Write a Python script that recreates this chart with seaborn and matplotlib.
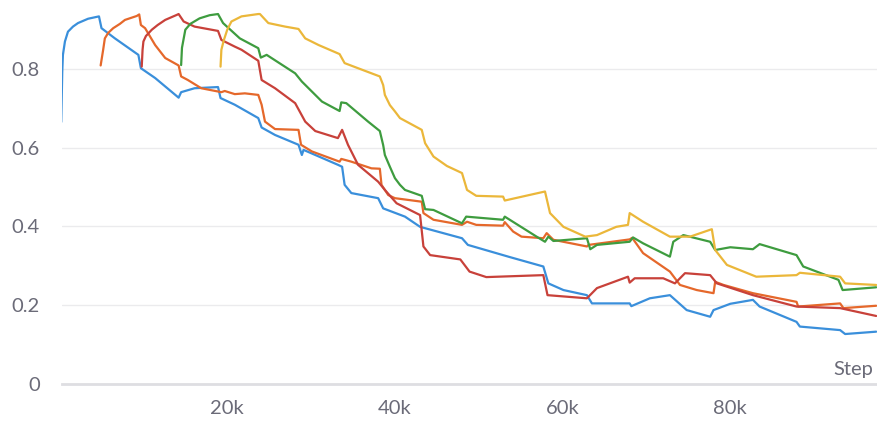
import numpy as np
import pandas as pd
import seaborn as sns
import matplotlib
matplotlib.use("Agg")
import matplotlib.pyplot as plt
from matplotlib.ticker import FuncFormatter

# Run curves: training step vs. metric value
run1_step = [200, 320, 400, 640, 1000, 1600, 2200, 3400, 4700, 5000, 6600, 9400, 9700, 11400,
             14200, 14500, 16100, 18900, 19200, 20900, 23700, 24100, 25700, 28500, 28900,
             29100, 33200, 33700, 34000, 34800, 38000, 38600, 41200, 43000, 48000, 48700,
             53700, 57700, 58300, 60100, 62900, 63500, 68000, 68200, 70400, 72800, 74800,
             77600, 78000, 80000, 82700, 83500, 87900, 88300, 93100, 93700, 97400]
run1_val = [0.666, 0.794, 0.837, 0.871, 0.896, 0.909, 0.918, 0.929, 0.935, 0.905, 0.879,
            0.837, 0.803, 0.778, 0.728, 0.742, 0.752, 0.755, 0.727, 0.710, 0.676, 0.652,
            0.633, 0.608, 0.582, 0.595, 0.557, 0.552, 0.506, 0.485, 0.472, 0.446, 0.425,
            0.399, 0.370, 0.353, 0.322, 0.298, 0.255, 0.238, 0.225, 0.204, 0.204, 0.197,
            0.217, 0.225, 0.187, 0.170, 0.187, 0.203, 0.213, 0.196, 0.157, 0.145, 0.136,
            0.126, 0.132]

run2_step = [4900, 5200, 5400, 5800, 6400, 7200, 7800, 9200, 9500, 9700, 10200, 11400, 12600,
             14200, 14500, 15300, 16900, 19300, 19700, 20900, 22100, 23700, 24100, 24500,
             25700, 28500, 28800, 30100, 33400, 33600, 34800, 37200, 38200, 38400, 39200,
             40000, 43200, 43400, 44600, 48000, 48600, 49700, 52900, 53100, 54100, 55100,
             57700, 58100, 58900, 62900, 63100, 68000, 68300, 69600, 72800, 74000, 76000,
             78000, 78200, 79200, 82700, 87900, 88100, 93100, 93500, 97400]
run2_val = [0.810, 0.850, 0.879, 0.893, 0.905, 0.916, 0.926, 0.936, 0.940, 0.913, 0.905,
            0.862, 0.829, 0.810, 0.782, 0.773, 0.752, 0.742, 0.745, 0.737, 0.739, 0.735,
            0.710, 0.667, 0.648, 0.646, 0.608, 0.591, 0.565, 0.572, 0.565, 0.548, 0.547,
            0.506, 0.480, 0.472, 0.463, 0.434, 0.417, 0.404, 0.412, 0.404, 0.402, 0.411,
            0.387, 0.374, 0.370, 0.383, 0.366, 0.349, 0.353, 0.367, 0.371, 0.332, 0.285,
            0.251, 0.238, 0.230, 0.259, 0.251, 0.230, 0.208, 0.196, 0.204, 0.192, 0.198]

run3_step = [9800, 9900, 10000, 10300, 11000, 11700, 12600, 14000, 14200, 14800, 16100,
             18900, 19300, 20900, 21700, 23700, 24100, 25700, 28100, 29300, 30500, 33200,
             33700, 34400, 35600, 38000, 38800, 40200, 43000, 43400, 44200, 47800, 48900,
             50900, 57700, 58200, 62900, 64100, 67800, 68000, 68600, 72000, 73400, 74600,
             77600, 78400, 82700, 87900, 93100, 97400]
run3_val = [0.807, 0.850, 0.871, 0.885, 0.901, 0.913, 0.926, 0.939, 0.941, 0.922, 0.909,
            0.898, 0.875, 0.858, 0.850, 0.822, 0.773, 0.752, 0.714, 0.667, 0.643, 0.625,
            0.646, 0.608, 0.557, 0.514, 0.493, 0.459, 0.429, 0.349, 0.327, 0.316, 0.285,
            0.271, 0.276, 0.225, 0.217, 0.243, 0.272, 0.257, 0.268, 0.268, 0.255, 0.281,
            0.276, 0.255, 0.225, 0.196, 0.192, 0.172]

run4_step = [14500, 14600, 15000, 15600, 16700, 17900, 18900, 19500, 21500, 23700, 24000,
             24700, 28100, 28900, 31300, 33400, 33600, 34200, 36800, 38200, 38600, 38800,
             39400, 40000, 40600, 41200, 43200, 43600, 44600, 48000, 48500, 52900, 53100,
             56900, 57900, 58300, 58900, 62900, 63300, 64100, 68000, 68400, 69600, 72800,
             73200, 74400, 77600, 78200, 80000, 82700, 83500, 87900, 88700, 92900, 93400,
             97400]
run4_val = [0.811, 0.855, 0.901, 0.916, 0.930, 0.938, 0.941, 0.918, 0.879, 0.854, 0.830,
            0.837, 0.790, 0.769, 0.718, 0.694, 0.716, 0.714, 0.667, 0.643, 0.607, 0.582,
            0.552, 0.523, 0.506, 0.493, 0.478, 0.444, 0.442, 0.408, 0.425, 0.417, 0.425,
            0.374, 0.361, 0.374, 0.363, 0.370, 0.342, 0.353, 0.361, 0.372, 0.357, 0.323,
            0.361, 0.378, 0.361, 0.340, 0.347, 0.342, 0.355, 0.327, 0.298, 0.264, 0.238,
            0.245]

run5_step = [19200, 19300, 19600, 20000, 20500, 21700, 23700, 23900, 24900, 26900, 28500,
             29300, 30900, 33400, 34000, 35600, 38200, 38600, 38800, 39400, 40000, 40600,
             43200, 43600, 44600, 46200, 48000, 48600, 49700, 52900, 53100, 57900, 58500,
             60100, 62700, 64100, 66400, 67800, 68000, 69600, 72800, 75200, 77800, 78200,
             79600, 83100, 87900, 88300, 93100, 93700, 97400]
run5_val = [0.807, 0.850, 0.875, 0.901, 0.922, 0.935, 0.941, 0.941, 0.918, 0.909, 0.903,
            0.879, 0.862, 0.839, 0.816, 0.803, 0.782, 0.760, 0.735, 0.709, 0.693, 0.676,
            0.646, 0.612, 0.578, 0.554, 0.536, 0.493, 0.478, 0.476, 0.466, 0.489, 0.434,
            0.399, 0.374, 0.378, 0.399, 0.404, 0.434, 0.412, 0.374, 0.374, 0.393, 0.340,
            0.302, 0.272, 0.276, 0.282, 0.272, 0.255, 0.251]

run_names = ["run 1", "run 2", "run 3", "run 4", "run 5"]
run_colors = ["#3a8fdb", "#e5682b", "#c8413a", "#3e9c3f", "#ebb73a"]
y_ticks = [0, 0.2, 0.4, 0.6, 0.8]
x_ticks = [20000, 40000, 60000, 80000]

frames = []
for name, s, v in zip(run_names,
                      [run1_step, run2_step, run3_step, run4_step, run5_step],
                      [run1_val, run2_val, run3_val, run4_val, run5_val]):
    frames.append(pd.DataFrame({"Step": s, "value": v, "run": name}))
df = pd.concat(frames, ignore_index=True)

sns.set_theme(style="white")
plt.rcParams["font.family"] = ["Lato", "DejaVu Sans"]

fig = plt.figure(figsize=(8.77, 4.23), dpi=100)
ax = fig.add_axes([62 / 877, 39.5 / 423, 815 / 877, 378.5 / 423])

sns.lineplot(data=df, x="Step", y="value", hue="run", palette=run_colors,
             estimator=None, sort=False, linewidth=1.6, legend=False, ax=ax)
for line in ax.get_lines():
    line.set_solid_joinstyle("round")

ax.set_xlim(290, 97500)
ax.set_ylim(0, 0.964)
ax.set_xticks(x_ticks)
ax.set_yticks(y_ticks)
ax.xaxis.set_major_formatter(FuncFormatter(lambda v, p: f"{int(v / 1000)}k"))
ax.yaxis.set_major_formatter(FuncFormatter(lambda v, p: "0" if v == 0 else f"{v:.1f}"))

grid_c = "#ebebed"
ax.grid(axis="y", color=grid_c, linewidth=1.0)
ax.grid(axis="x", visible=False)
ax.set_axisbelow(True)
for side in ["top", "right", "left"]:
    ax.spines[side].set_visible(False)
ax.spines["bottom"].set_color("#dedee2")
ax.spines["bottom"].set_linewidth(2.0)

label_c = "#6b6b78"
ax.tick_params(axis="x", direction="inout", length=12, width=1.2, color="#dedee2",
               labelsize=14.5, labelcolor=label_c, pad=6)
ax.tick_params(axis="y", length=0, labelsize=14.5, labelcolor=label_c, pad=16)
ax.set_xlabel("")
ax.set_ylabel("")
ax.text(0.995, 0.022, "Step", transform=ax.transAxes, ha="right", va="baseline",
        fontsize=14.5, color=label_c)

fig.savefig("out.png", dpi=100)
